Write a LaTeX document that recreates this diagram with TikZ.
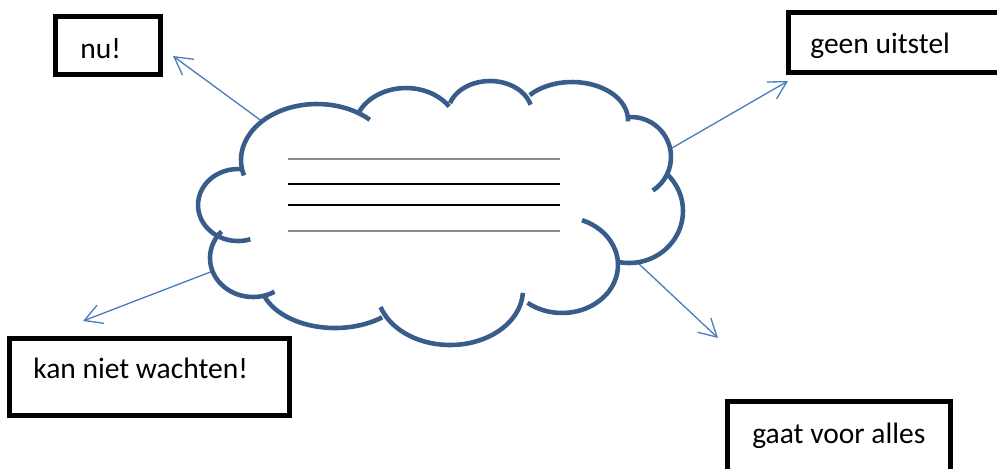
\documentclass[tikz,border=0pt]{standalone}
\usepackage{fontspec}
\setmainfont{Carlito}
\usepackage{xcolor}
\usepackage{tikz}
\usetikzlibrary{arrows.meta, calc}

\definecolor{cloudblue}{RGB}{56,93,138}
\definecolor{arrowblue}{RGB}{74,126,187}
\definecolor{linegray}{RGB}{140,140,140}

\begin{document}
\begin{tikzpicture}[
    x=0.02cm, y=-0.02cm,
    lobe/.style={draw=cloudblue,line width=2.6pt},
    pointer/.style={-{Straight Barb[length=3.5mm,width=3.9mm]},draw=arrowblue,line width=0.75pt},
    box/.style={rectangle,draw=black,line width=2.8pt,anchor=north west,inner sep=0pt},
    boxtext/.style={anchor=base west,inner sep=0pt,font=\fontsize{16.8}{20}\selectfont},
    thinrule/.style={draw=linegray,line width=1.1pt},
    thickrule/.style={draw=black,line width=1.4pt}
]
\useasboundingbox (0,0) rectangle (997,468);
\clip (0,0) rectangle (997,468);

%--------------------------------------------------------------------
% Boxes with texts
%--------------------------------------------------------------------
\node[box,minimum width=2.1cm,minimum height=1.16cm] (nubox) at (53,14) {};
\node[boxtext] (nutext) at (80,58) {nu!};

\node[box,minimum width=4.5cm,minimum height=1.2cm] (geenbox) at (786,10) {};
\node[boxtext] (geentext) at (810,53) {geen uitstel};

\node[box,minimum width=5.6cm,minimum height=1.54cm] (kanbox) at (7,336) {};
\node[boxtext] (kantext) at (33,378) {kan niet wachten!};

\node[box,minimum width=4.46cm,minimum height=1.8cm] (gaatbox) at (725,399) {};
\node[boxtext] (gaattext) at (752,443) {gaat voor alles};

%--------------------------------------------------------------------
% Arrows out of the cloud
%--------------------------------------------------------------------
\coordinate (nustart)   at (263,122);
\coordinate (nuend)     at (173,56);
\coordinate (geenstart) at (672,148);
\coordinate (geenend)   at (788,81);
\coordinate (kanstart)  at (213,271);
\coordinate (kanend)    at (83,321);
\coordinate (gaatstart) at (638,263);
\coordinate (gaatend)   at (718,338);

\draw[pointer] (nustart) -- (nuend);
\draw[pointer] (geenstart) -- (geenend);
\draw[pointer] (kanstart) -- (kanend);
\draw[pointer] (gaatstart) -- (gaatend);

%--------------------------------------------------------------------
% Cloud: one elliptic arc per lobe (centre / radii / angles)
%--------------------------------------------------------------------
\foreach \cx/\cy/\rx/\ry/\a/\b in {
    317/160/76/56/164/314,
    406/130/52/42/205/326,
    490/113/42/32/198/345,
    572/120/56/38/221/362,
    631/157/40/40/-93/57,
    629/211/54/52/-45/100,
    562/265/56/48/-69/128,
    450/290/73/55/3/162,
    335/280/75/48/51/162,
    253/258/43/39/60/223,
    238/205/40/36/72/276}
  \draw[lobe] ({\cx+\rx*cos(\a)},{\cy+\ry*sin(\a)})
      arc[start angle=\a,end angle=\b,x radius=\rx,y radius=\ry];

% text rules inside the cloud
\foreach \y/\rule in {159/thinrule, 184/thickrule, 205/thickrule, 231/thinrule}
  \draw[\rule] (288,\y) -- (560,\y);

\end{tikzpicture}
\end{document}
